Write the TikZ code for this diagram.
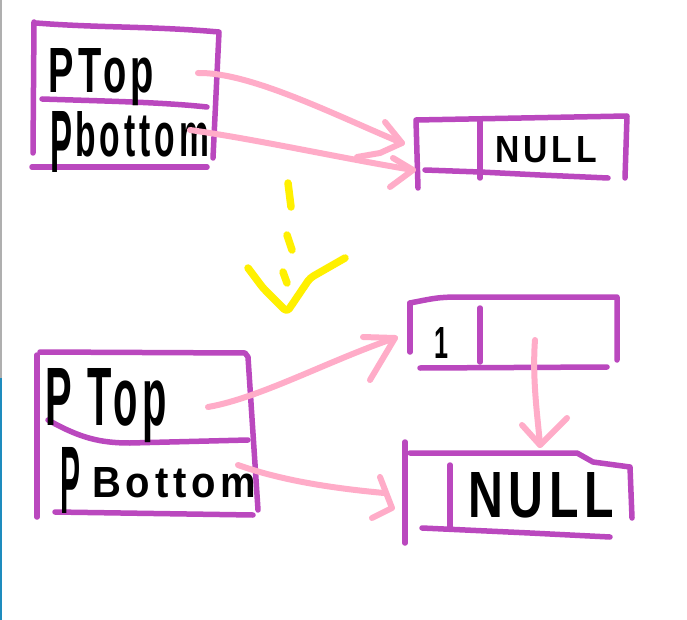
\documentclass[tikz,border=0pt]{standalone}
\usepackage{fontspec}
\usepackage{graphicx}
\setmainfont{Liberation Sans}
\newfontfamily\handwide{Liberation Sans}[LetterSpace=12]
\definecolor{boxpurple}{RGB}{186,72,190}
\definecolor{linkpink}{RGB}{255,172,200}
\definecolor{flowyellow}{RGB}{255,240,0}
\definecolor{edgeblue}{RGB}{30,140,190}
\definecolor{edgegray}{RGB}{175,175,175}
\tikzset{
 box/.style={draw=boxpurple, line width=5.5pt, line cap=round, line join=round},
 link/.style={draw=linkpink, line width=6pt, line cap=round, line join=round},
 flow/.style={draw=flowyellow, line width=7.5pt, line cap=round, line join=round},
 lbl/.style={inner sep=0pt, anchor=base west, font=\handwide\bfseries},
}
\begin{document}
\begin{tikzpicture}[x=1pt,y=-1pt]
\useasboundingbox (0,0) rectangle (687,620);
\fill[white] (0,0) rectangle (687,620);
\draw[edgegray, line width=2pt] (1,0) -- (1,378);
\draw[edgeblue, line width=2pt] (1,378) -- (1,620);

% top-left box
\draw[box] (36,23) .. controls (100,28) and (150,26) .. (219,32) -- (213,158);
\draw[box] (34,22) -- (33,153);
\draw[box] (42,99) .. controls (100,101) and (160,102) .. (207,107);
\draw[box] (32,167) -- (207,167);

% top-right box
\draw[box] (418,188) -- (416,120) -- (627,116) -- (625,178);
\draw[box] (425,170) -- (480,172) -- (540,175) -- (608,178);
\draw[box] (480,120) -- (480,178);

% yellow transition arrow
\draw[flow] (288,183) -- (291,207);
\draw[flow] (287,235) -- (292,250);
\draw[flow] (283,272) -- (287,283);
\draw[flow, rounded corners=4pt] (248,268) -- (263,288) -- (287,312) -- (310,278) -- (345,258);

% bottom-left box
\draw[box] (37,355) -- (37,517);
\draw[box] (40,352) -- (245,353) -- (248,357) -- (258,510);
\draw[box] (48,420) .. controls (80,438) and (100,443) .. (130,443) -- (248,440);
\draw[box] (55,512) -- (253,515);

% box A (value 1)
\draw[box] (410,352) -- (410,303);
\draw[box] (410,303) .. controls (440,297) .. (470,297) -- (617,297) -- (617,360);
\draw[box] (420,368) -- (607,367);
\draw[box] (480,308) -- (480,362);

% box B (NULL)
\draw[box] (405,442) -- (405,543);
\draw[box] (410,453) -- (577,453) -- (593,462) -- (630,467) -- (632,518);
\draw[box] (422,528) -- (530,533) -- (610,537);
\draw[box] (450,465) -- (450,527);

% labels
\node[lbl] (ptop1) at (48,93) {\resizebox{106pt}{44pt}{PTop}};
\node[lbl] (pbot1) at (50,157) {\raisebox{-16pt}{\resizebox{22pt}{61pt}{P}}\hspace{3pt}\resizebox{134pt}{45pt}{bottom}};
\node[lbl] (null1) at (495,163) {\resizebox{102pt}{26pt}{NULL}};
\node[lbl] (ptop2) at (45,425) {\resizebox{122pt}{57pt}{P Top}};
\node[lbl] (pbot2) at (60,513) {\resizebox{20pt}{66pt}{P}\hspace{12pt}\raisebox{16pt}{\resizebox{164pt}{30pt}{Bottom}}};
\node[lbl] (one) at (434,358) {\resizebox{14pt}{31pt}{1}};
\node[lbl] (null2) at (468,517) {\resizebox{146pt}{45pt}{NULL}};

% connector coordinates
\coordinate (a1s) at (198,73);  \coordinate (a1t) at (402,143);
\coordinate (a2s) at (190,130); \coordinate (a2t) at (413,170);
\coordinate (a3s) at (208,407); \coordinate (a3t) at (395,338);
\coordinate (a4s) at (238,465); \coordinate (a4e) at (384,493); \coordinate (a4t) at (392,508);
\coordinate (a5s) at (535,340); \coordinate (a5t) at (540,445);

% pink arrows
\draw[link] (a1s) .. controls (250,72) and (335,115) .. (a1t);
\draw[link] (a1t) ++(-17,-21) -- (a1t) -- ++(-22,10) -- ++(-23,4);
\draw[link] (a2s) .. controls (260,140) and (340,158) .. (a2t);
\draw[link] (a2t) ++(-20,-12) -- (a2t) -- ++(-23,17);
\draw[link] (a3s) .. controls (260,398) and (330,360) .. (a3t);
\draw[link] (a3t) ++(-32,-1) -- (a3t) -- ++(-25,42);
\draw[link] (a4s) .. controls (280,480) and (330,488) .. (a4e);
\draw[link] (a4t) ++(-12,-31) -- (a4t) -- ++(-20,10);
\draw[link] (a5s) .. controls (532,380) and (538,420) .. (a5t);
\draw[link] (a5t) ++(-18,-20) -- (a5t) -- ++(20,-20) -- ++(7,-7);
\end{tikzpicture}
\end{document}
